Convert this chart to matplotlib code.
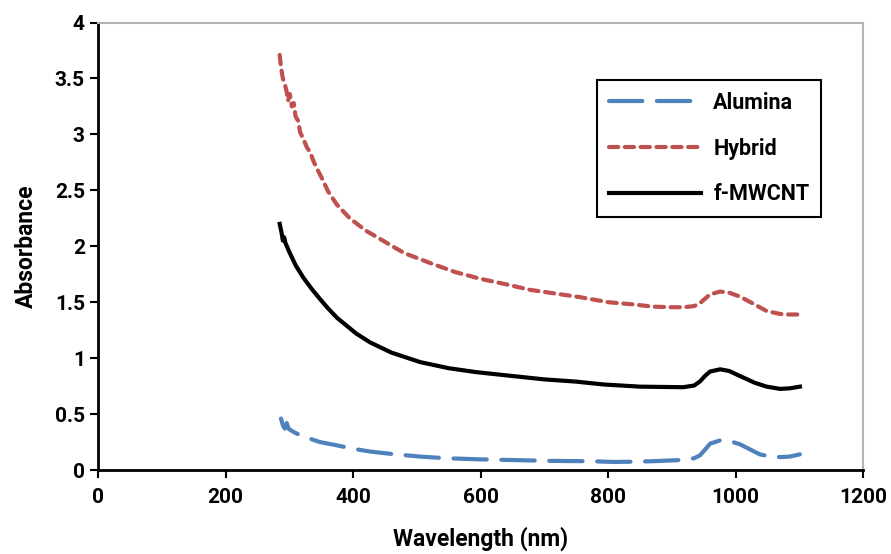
import matplotlib
matplotlib.use("Agg")
import matplotlib.pyplot as plt

# ---------------- DATA ----------------

alumina_x = [287, 290, 293, 296, 299, 301, 310, 322, 348, 375, 400, 427, 458, 505, 547,
             600, 642, 704, 776, 808, 850, 877, 918, 935, 944, 952, 960, 976, 990, 1007,
             1038, 1055, 1070, 1085, 1101]
alumina_y = [0.46, 0.40, 0.37, 0.42, 0.37, 0.36, 0.33, 0.30, 0.25, 0.22, 0.19, 0.165, 0.145,
             0.12, 0.105, 0.095, 0.09, 0.082, 0.078, 0.072, 0.075, 0.08, 0.09, 0.105, 0.13,
             0.18, 0.235, 0.265, 0.26, 0.23, 0.14, 0.12, 0.115, 0.12, 0.14]

hybrid_x = [285, 287, 290, 293, 296, 298, 301, 304, 307, 310, 314, 317, 322, 328, 333, 338,
            343, 351, 361, 375, 395, 420, 447, 480, 521, 560, 599, 640, 678, 720, 756, 800,
            840, 871, 900, 918, 935, 944, 952, 960, 976, 990, 1007, 1030, 1049, 1070, 1081,
            1101]
hybrid_y = [3.71, 3.60, 3.50, 3.45, 3.38, 3.30, 3.36, 3.25, 3.28, 3.16, 3.12, 3.02, 2.96,
            2.88, 2.84, 2.76, 2.70, 2.61, 2.49, 2.37, 2.25, 2.14, 2.05, 1.94, 1.85, 1.77,
            1.71, 1.66, 1.61, 1.575, 1.545, 1.50, 1.48, 1.46, 1.455, 1.455, 1.465, 1.49,
            1.53, 1.57, 1.595, 1.585, 1.55, 1.48, 1.42, 1.395, 1.39, 1.39]

mwcnt_x = [285, 288, 290, 292, 294, 300, 310, 322, 335, 348, 360, 375, 390, 405, 427, 460,
           505, 550, 593, 650, 700, 750, 792, 850, 918, 935, 944, 952, 960, 976, 990, 1007,
           1030, 1049, 1070, 1085, 1101]
mwcnt_y = [2.20, 2.12, 2.05, 2.08, 2.03, 1.95, 1.83, 1.72, 1.62, 1.53, 1.45, 1.36, 1.29,
           1.22, 1.14, 1.05, 0.965, 0.91, 0.875, 0.84, 0.81, 0.79, 0.765, 0.745, 0.74,
           0.755, 0.79, 0.84, 0.88, 0.90, 0.885, 0.84, 0.78, 0.745, 0.725, 0.73, 0.745]

x_ticks = [0, 200, 400, 600, 800, 1000, 1200]
y_ticks = [0, 0.5, 1, 1.5, 2, 2.5, 3, 3.5, 4]
y_tick_labels = ["0", "0.5", "1", "1.5", "2", "2.5", "3", "3.5", "4"]

# ---------------- PLOT ----------------

plt.rcParams["font.family"] = ["Roboto", "DejaVu Sans"]
plt.rcParams["font.weight"] = "bold"

fig = plt.figure(figsize=(8.91, 5.54), dpi=100)
ax = fig.add_axes([98 / 891, 1 - 470 / 554, 765 / 891, 447.5 / 554])

ax.plot(alumina_x, alumina_y, color="#4f81bd", lw=3, dashes=(8, 3.5),
        dash_capstyle="round", label="Alumina")
ax.plot(hybrid_x, hybrid_y, color="#c0504d", lw=3, dashes=(2.2, 1.6),
        dash_capstyle="round", label="Hybrid")
ax.plot(mwcnt_x, mwcnt_y, color="black", lw=3, label="f-MWCNT")

ax.set_xlim(0, 1200)
ax.set_ylim(0, 4)
ax.set_xticks(x_ticks)
ax.set_yticks(y_ticks)
ax.set_yticklabels(y_tick_labels)
ax.tick_params(labelsize=15, length=6, width=1.5, direction="out")
ax.tick_params(axis="x", pad=7)
for lbl in ax.get_xticklabels() + ax.get_yticklabels():
    lbl.set_fontweight("bold")

ax.set_xlabel("Wavelength (nm)", fontsize=16.5, fontweight="bold", labelpad=14)
ax.set_ylabel("Absorbance", fontsize=16.5, fontweight="bold", labelpad=12)

for side in ["left", "bottom"]:
    ax.spines[side].set_linewidth(2)
    ax.spines[side].set_color("black")
for side in ["top", "right"]:
    ax.spines[side].set_linewidth(1.5)
    ax.spines[side].set_color("#b3b3b3")

leg = ax.legend(loc="upper left", bbox_to_anchor=((597 - 98) / 765, (470 - 80) / 447.5),
                borderaxespad=0, fontsize=15.5, handlelength=4.3, labelspacing=1.1,
                fancybox=False, edgecolor="black", framealpha=1,
                borderpad=0.55, handletextpad=0.55)
leg.get_frame().set_linewidth(1.5)
for t in leg.get_texts():
    t.set_fontweight("bold")

fig.savefig("out.png", dpi=100)
